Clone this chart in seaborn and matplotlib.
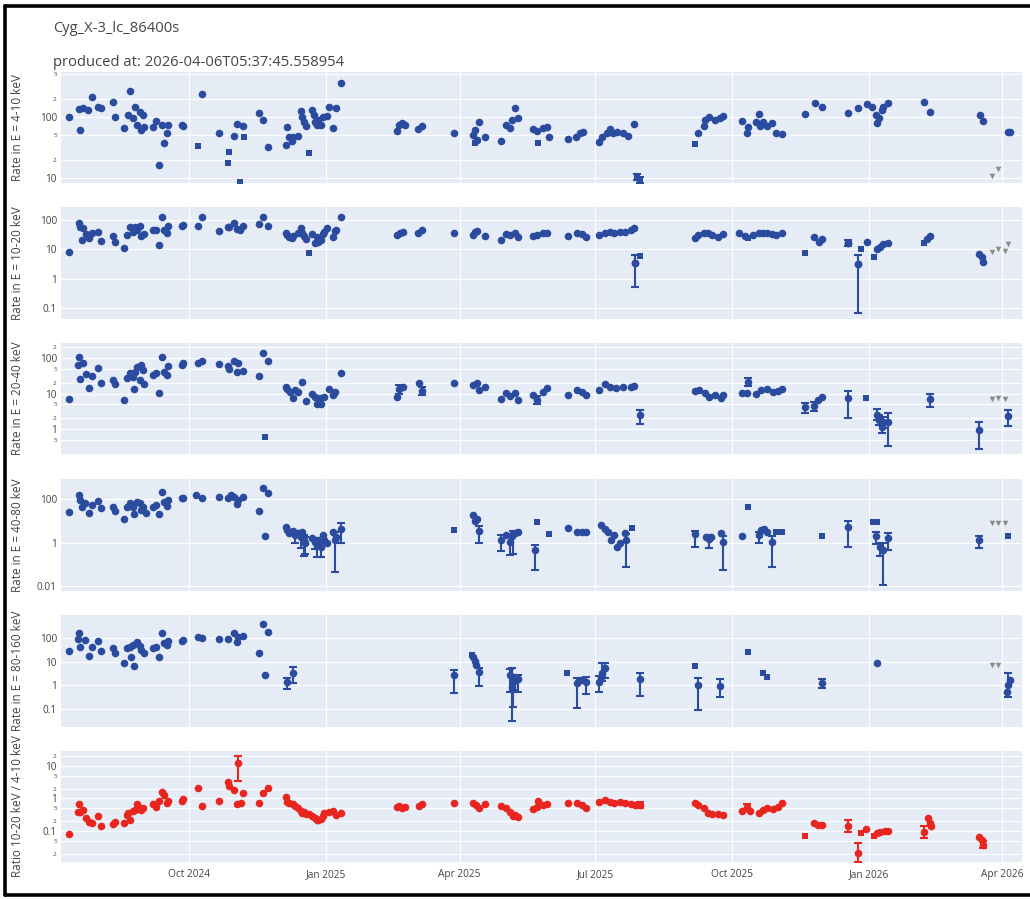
import numpy as np
import pandas as pd
import matplotlib
matplotlib.use("Agg")
import matplotlib.pyplot as plt
import matplotlib.dates as mdates
from matplotlib.ticker import FixedLocator, FixedFormatter, NullLocator
from matplotlib.lines import Line2D
import seaborn as sns

sns.set_style("white")
plt.rcParams["font.family"] = ["Open Sans", "DejaVu Sans"]

# Observation epochs are given in days since 2024-07-01 (one bin = 86400 s)
T0 = pd.Timestamp("2024-07-01")

# ---------------- 4-10 keV ----------------
e4_day = [11, 18, 19, 21, 24, 27, 31, 33, 41, 42, 48, 51, 52, 54, 56, 57, 59, 60, 61, 62,
          68, 70, 72, 74, 75, 77, 78, 87, 88, 101, 112, 122, 124, 128, 139, 142, 145, 157, 158, 159,
          161, 162, 165, 167, 168, 169, 171, 175, 176, 177, 178, 179, 181, 182, 185, 186, 189, 191, 194, 232,
          233, 235, 237, 246, 249, 270, 283, 284, 286, 287, 291, 302, 305, 308, 309, 311, 313, 323, 326, 330,
          333, 334, 347, 352, 355, 357, 368, 370, 373, 375, 377, 380, 384, 387, 391, 434, 438, 439, 442, 446,
          449, 451, 464, 467, 468, 473, 475, 476, 478, 481, 484, 487, 491, 506, 513, 518, 535, 542, 548, 551,
          554, 555, 556, 558, 559, 562, 586, 590, 624, 626, 643, 644]
e4_rate = [100, 135, 61, 140, 130, 213, 146, 140, 176, 100, 66, 108, 267, 96, 146, 74, 121, 61, 108, 69,
           69, 86, 16.4, 74, 37.5, 55, 74, 74, 71, 238, 55, 49, 77, 71, 116, 89, 32, 35, 69, 47,
           40, 47, 49, 125, 100, 83, 71, 130, 108, 83, 74, 89, 74, 100, 104, 146, 66, 140, 360, 59,
           74, 80, 74, 64, 71, 55, 51, 61, 42, 83, 47, 40, 74, 66, 89, 140, 96, 64, 59, 66,
           69, 47, 44, 47, 55, 57, 39, 47, 55, 64, 55, 57, 55, 49, 77, 55, 71, 89, 100, 89,
           96, 104, 86, 55, 69, 83, 112, 71, 83, 71, 80, 55, 53, 112, 170, 146, 116, 140, 163, 146,
           108, 80, 96, 130, 146, 170, 176, 121, 108, 86, 57, 57]
e4_sq_day = [98, 118, 119, 126, 129, 173, 284, 327, 393, 395, 432]
e4_sq_rate = [33.5, 17.6, 27, 8.5, 47, 25.6, 37, 37, 10.5, 9.3, 36]
e4_err_day = [393, 395]
e4_err_rate = [10.5, 9.3]
e4_err_lo = [9.3, 8.4]
e4_err_hi = [11.8, 10.4]
e4_ul_day = [632, 636]
e4_ul_rate = [10.8, 14]

# ---------------- 10-20 keV ----------------
e10_day = [11, 18, 19, 20, 21, 23, 25, 27, 31, 33, 41, 42, 48, 50, 52, 54, 56, 57, 59, 60,
           62, 68, 70, 72, 74, 75, 77, 78, 87, 88, 98, 101, 112, 118, 119, 122, 124, 126, 128, 139,
           142, 145, 157, 158, 159, 161, 162, 165, 167, 168, 169, 171, 175, 177, 178, 179, 181, 182, 183, 185,
           189, 190, 191, 194, 232, 234, 236, 246, 249, 270, 283, 284, 286, 291, 302, 305, 308, 311, 313, 323,
           326, 330, 333, 347, 353, 356, 359, 368, 372, 375, 378, 382, 385, 389, 391, 392, 432, 434, 438, 441,
           444, 448, 451, 462, 466, 471, 475, 478, 481, 484, 487, 491, 512, 516, 518, 535, 542, 548, 555, 557,
           559, 562, 588, 590, 623, 625, 626]
e10_rate = [8.3, 81, 58, 21, 53, 33, 24, 36, 39, 19, 28, 18, 11, 31, 58, 39, 58, 45, 63, 28,
            33, 45, 45, 14, 126, 45, 36, 63, 63, 68, 63, 126, 42, 58, 58, 79, 49, 45, 63, 73,
            126, 63, 36, 31, 26, 24, 28, 36, 53, 36, 28, 22, 33, 16, 26, 18, 21, 33, 39, 53,
            26, 42, 45, 126, 31, 36, 39, 36, 45, 36, 31, 39, 42, 28, 21, 33, 31, 36, 26, 28,
            31, 36, 36, 28, 36, 33, 26, 31, 36, 39, 36, 39, 39, 45, 53, 3.4, 24, 31, 36, 36,
            31, 26, 33, 36, 28, 31, 36, 36, 36, 33, 31, 36, 26, 18, 22, 16, 3.2, 18, 10, 12,
            15, 16, 22, 28, 6.9, 5.5, 3.7]
e10_sq_day = [173, 395, 468, 506, 544, 553, 586]
e10_sq_rate = [7.5, 5.9, 24, 7.5, 10, 5.5, 16]
e10_err_day = [392, 535, 542]
e10_err_rate = [3.4, 16, 3.2]
e10_err_lo = [0.51, 12.5, 0.068]
e10_err_hi = [6.4, 20, 6.4]
e10_ul_day = [632, 636, 641, 643]
e10_ul_rate = [8, 10, 8.5, 15]

# ---------------- 20-40 keV ----------------
e20_day = [11, 17, 18, 19, 21, 23, 25, 27, 31, 33, 41, 42, 48, 50, 52, 54, 55, 56, 57, 59,
           60, 61, 62, 68, 70, 72, 74, 75, 77, 78, 87, 88, 98, 101, 112, 118, 119, 122, 124, 125,
           128, 139, 142, 145, 157, 158, 160, 162, 163, 165, 168, 171, 175, 177, 178, 180, 181, 183, 186, 189,
           190, 194, 232, 236, 247, 270, 283, 286, 287, 291, 302, 305, 308, 311, 313, 323, 330, 333, 347, 353,
           356, 359, 368, 372, 375, 379, 384, 389, 391, 432, 435, 439, 442, 446, 450, 451, 464, 467, 473, 477,
           481, 485, 488, 491, 515, 518]
e20_rate = [7.0, 63, 109, 26, 72, 35, 14, 31, 52, 20, 24, 18.6, 6.6, 27, 38, 29, 13.5, 41, 56, 24,
            63, 46, 18.6, 33, 38, 10.3, 107, 41, 33, 59, 63, 72, 72, 82, 68, 59, 49, 82, 41, 72,
            43, 31, 138, 82, 15, 13.5, 11, 7.4, 12.6, 11, 21, 6.2, 9.7, 8.0, 5.0, 7.4, 5.0, 8, 13.5, 9.1,
            11, 38, 8, 15, 20, 20, 17.5, 20, 12.6, 15, 7.0, 10.3, 8.6, 10.3, 6.6, 9.1, 11, 14, 9.1, 12.6,
            11, 9.1, 12.6, 18.6, 15, 14, 15, 15, 16, 11.8, 12.6, 10.3, 8, 9.1, 7.4, 9.1, 10.3, 10.3, 9.7, 12.6,
            13.5, 11, 11.8, 13.5, 6.6, 8]
e20_sq_day = [143, 547]
e20_sq_rate = [0.6, 7.4]
e20_err_day = [233, 249, 326, 395, 468, 506, 512, 535, 555, 556, 558, 559, 562, 590, 623, 643]
e20_err_rate = [13.5, 11.8, 6.6, 2.5, 21, 4.2, 4.5, 7.4, 2.5, 1.8, 1.15, 1.6, 1.6, 7.0, 0.93, 2.3]
e20_err_lo = [10, 9, 5.2, 1.4, 16, 2.8, 3.2, 2.0, 1.8, 1.3, 0.8, 1.1, 0.33, 4.2, 0.27, 1.2]
e20_err_hi = [18, 15, 8.4, 3.5, 28, 5.5, 5.8, 11.8, 3.7, 2.5, 1.6, 2.2, 2.8, 9.7, 1.6, 3.4]
e20_ul_day = [632, 636, 641]
e20_ul_rate = [7, 7.4, 7]

# ---------------- 40-80 keV ----------------
e40_day = [11, 18, 19, 20, 22, 25, 27, 31, 33, 41, 42, 48, 50, 52, 54, 55, 57, 59, 60, 61,
           63, 68, 70, 72, 74, 75, 77, 78, 87, 88, 97, 101, 112, 118, 120, 122, 124, 125, 128, 139,
           142, 143, 145, 157, 158, 159, 162, 165, 168, 175, 179, 182, 183, 185, 189, 191, 283, 284, 286, 305,
           309, 311, 313, 347, 353, 356, 359, 369, 372, 374, 376, 378, 380, 382, 385, 440, 443, 450, 464, 477,
           479, 481]
e40_rate = [25, 150, 90, 43, 66, 23, 53, 81, 39, 43, 28, 12, 43, 66, 43, 20, 73, 66, 31, 43,
            23, 43, 53, 20, 210, 73, 48, 90, 112, 112, 150, 112, 123, 112, 150, 123, 59, 90, 123, 28,
            320, 2.0, 190, 5.1, 3.7, 2.7, 3.4, 2.7, 3.0, 1.6, 1.3, 2.2, 1.3, 1.0, 3.0, 1.8, 18, 9.8, 12, 2.2,
            2.0, 2.7, 3.0, 4.7, 3.0, 3.0, 3.0, 6.3, 4.2, 3.0, 1.3, 2.2, 0.6, 1.0, 2.7, 1.8, 1.8, 2.7, 2.0, 3.7,
            4.2, 3.0]
e40_sq_day = [270, 326, 334, 390, 468, 487, 491, 518, 552, 555, 643]
e40_sq_rate = [3.7, 8.7, 2.4, 4.7, 43, 3.0, 3.0, 2.0, 8.7, 8.7, 2.0]
e40_err_day = [163, 167, 169, 170, 177, 178, 181, 190, 194, 287, 302, 308, 310, 325, 386, 432,
               442, 451, 475, 484, 535, 554, 557, 559, 562, 623]
e40_err_rate = [2.2, 1.8, 1.3, 1.0, 1.05, 0.8, 0.6, 1.3, 4.2, 3.4, 1.3, 1.05, 2.4, 0.46, 1.3, 2.4,
                1.4, 1.05, 2.2, 1.05, 5.1, 2.0, 0.6, 0.46, 1.6, 1.3]
e40_err_lo = [1.0, 0.56, 0.24, 0.3, 0.5, 0.22, 0.22, 0.044, 1.0, 1.0, 0.4, 0.27, 0.3, 0.054, 0.074, 0.6,
              0.55, 0.054, 1.0, 0.074, 0.6, 0.9, 0.25, 0.011, 0.46, 0.55]
e40_err_hi = [3.4, 2.7, 2.2, 1.8, 1.6, 1.3, 1.0, 3.0, 7.8, 5.5, 2.2, 1.8, 3.5, 0.77, 2.5, 3.4,
              2.2, 2.0, 3.2, 2.0, 9.8, 3.0, 1.0, 1.0, 2.7, 2.0]
e40_ul_day = [632, 636, 641]
e40_ul_rate = [7.9, 7.9, 7.9]

# ---------------- 80-160 keV ----------------
e80_day = [11, 17, 18, 19, 22, 25, 27, 31, 33, 41, 42, 48, 50, 52, 53, 54, 55, 57, 59, 60,
           62, 68, 70, 72, 74, 75, 77, 78, 87, 88, 98, 101, 112, 118, 122, 124, 125, 128, 139, 142,
           143, 145, 283, 284, 285, 355, 357, 369, 555, 642, 644]
e80_rate = [28, 91, 163, 42, 82, 17.5, 42, 74, 28, 38, 23, 8.9, 38, 42, 16, 50, 6.6, 68, 46, 32,
            23, 38, 42, 16, 163, 62, 50, 74, 74, 82, 110, 100, 91, 91, 163, 68, 110, 120, 23, 390,
            2.8, 180, 16, 11, 7.3, 1.7, 1.7, 2.3, 8.9, 0.53, 1.6]
e80_sq_day = [282, 346, 432, 468, 478, 481]
e80_sq_rate = [19, 3.3, 6.6, 26, 3.3, 2.3]
e80_err_day = [158, 162, 270, 287, 308, 309, 310, 311, 313, 353, 359, 368, 370, 372, 395, 434,
               449, 518, 643]
e80_err_rate = [1.4, 3.3, 2.8, 3.7, 2.8, 0.85, 1.4, 1.7, 1.8, 1.25, 1.4, 1.4, 3.3, 5.4, 1.8, 1.0,
                0.95, 1.25, 1.0]
e80_err_lo = [0.7, 1.25, 0.48, 0.95, 0.5, 0.03, 0.12, 0.6, 0.53, 0.11, 0.44, 0.5, 1.5, 2.0, 0.36, 0.09,
              0.32, 0.75, 0.32]
e80_err_hi = [2.1, 6.0, 4.5, 5.5, 4.8, 5.4, 2.6, 2.8, 2.8, 2.1, 2.2, 2.5, 8.9, 9.0, 3.3, 2.1,
              1.8, 1.8, 3.3]
e80_ul_day = [632, 636]
e80_ul_rate = [7.3, 7.3]

# ---------------- hardness ratio (10-20 keV / 4-10 keV) ----------------
hr_day = [11, 17, 18, 19, 21, 23, 25, 27, 31, 33, 41, 42, 48, 50, 51, 52, 54, 56, 57, 59,
          60, 61, 68, 70, 72, 74, 75, 77, 78, 87, 88, 98, 101, 112, 118, 119, 122, 124, 127, 128,
          139, 142, 145, 157, 158, 159, 162, 163, 165, 167, 168, 169, 171, 173, 175, 177, 178, 179, 181, 182,
          183, 186, 189, 191, 194, 232, 233, 235, 237, 247, 249, 270, 283, 285, 287, 291, 302, 305, 308, 310,
          311, 313, 323, 326, 327, 330, 333, 347, 353, 356, 359, 368, 372, 375, 378, 382, 385, 389, 392, 432,
          434, 438, 441, 444, 448, 451, 464, 469, 475, 478, 481, 485, 488, 491, 512, 515, 518, 547, 555, 557,
          560, 562, 589, 590, 591, 623, 625]
hr_ratio = [0.081, 0.38, 0.68, 0.38, 0.45, 0.25, 0.19, 0.18, 0.29, 0.14, 0.16, 0.19, 0.18, 0.31, 0.36, 0.22, 0.42, 0.45, 0.68, 0.51,
            0.45, 0.51, 0.68, 0.55, 0.83, 1.6, 1.3, 0.73, 0.83, 0.83, 0.96, 2.1, 0.59, 0.83, 3.2, 2.4, 1.8, 0.68, 0.73, 1.48,
            0.73, 1.48, 2.1, 1.1, 0.78, 0.73, 0.68, 0.59, 0.51, 0.42, 0.36, 0.38, 0.33, 0.33, 0.29, 0.25, 0.22, 0.21, 0.23, 0.29,
            0.36, 0.38, 0.42, 0.31, 0.36, 0.55, 0.59, 0.51, 0.55, 0.59, 0.68, 0.73, 0.73, 0.64, 0.51, 0.68, 0.59, 0.51, 0.38, 0.29,
            0.31, 0.27, 0.48, 0.55, 0.83, 0.64, 0.68, 0.73, 0.73, 0.64, 0.51, 0.78, 0.90, 0.78, 0.73, 0.78, 0.73, 0.68, 0.64, 0.73,
            0.64, 0.51, 0.36, 0.33, 0.33, 0.31, 0.42, 0.42, 0.36, 0.45, 0.51, 0.48, 0.55, 0.73, 0.18, 0.15, 0.15, 0.115, 0.087, 0.093,
            0.10, 0.10, 0.25, 0.18, 0.14, 0.066, 0.052]
hr_sq_day = [506, 544, 553]
hr_sq_ratio = [0.071, 0.087, 0.071]
hr_err_day = [125, 395, 467, 535, 542, 586, 626]
hr_err_ratio = [12.4, 0.64, 0.55, 0.14, 0.021, 0.093, 0.037]
hr_err_lo = [3.5, 0.52, 0.42, 0.093, 0.011, 0.06, 0.03]
hr_err_hi = [20, 0.76, 0.68, 0.22, 0.043, 0.14, 0.05]

# y-axis tick values and their labels
e4_major, e4_major_lab = [10, 100], ["10", "100"]
e4_minor, e4_minor_lab = [20, 50, 200, 500], ["2", "5", "2", "5"]
e10_major, e10_major_lab = [0.1, 1, 10, 100], ["0.1", "1", "10", "100"]
e20_major, e20_major_lab = [1, 10, 100], ["1", "10", "100"]
e20_minor, e20_minor_lab = [0.5, 2, 5, 20, 50, 200], ["5", "2", "5", "2", "5", "2"]
e40_major, e40_major_lab = [0.01, 1, 100], ["0.01", "1", "100"]
e80_major, e80_major_lab = [0.1, 1, 10, 100], ["0.1", "1", "10", "100"]
hr_major, hr_major_lab = [0.1, 1, 10], ["0.1", "1", "10"]
hr_minor, hr_minor_lab = [0.02, 0.05, 0.2, 0.5, 2, 5, 20], ["2", "5", "2", "5", "2", "5", "2"]

BLUE = "#2b4c9e"
RED = "#e8261f"
GRAY = "#8a8a8a"
BG = "#e5ecf6"
TXT = "#444444"

W, H = 1030, 899
fig = plt.figure(figsize=(W / 100, H / 100), dpi=100)
fig.patch.set_facecolor("white")


def when(days):
    return T0 + pd.to_timedelta(np.asarray(days, dtype=float), unit="D")


panel_px = [(72, 183), (207, 319), (343, 454), (479, 591), (615, 727), (751, 862)]
x_left, x_right = 61, 1022

panels = [
    dict(d=e4_day, v=e4_rate, sd=e4_sq_day, sv=e4_sq_rate, ed=e4_err_day, ev=e4_err_rate,
         lo=e4_err_lo, hi=e4_err_hi, ud=e4_ul_day, uv=e4_ul_rate, color=BLUE, ylim=(8.3, 547),
         major=(e4_major, e4_major_lab), minor=(e4_minor, e4_minor_lab), label="Rate in E = 4-10 keV"),
    dict(d=e10_day, v=e10_rate, sd=e10_sq_day, sv=e10_sq_rate, ed=e10_err_day, ev=e10_err_rate,
         lo=e10_err_lo, hi=e10_err_hi, ud=e10_ul_day, uv=e10_ul_rate, color=BLUE, ylim=(0.042, 277),
         major=(e10_major, e10_major_lab), minor=None, label="Rate in E = 10-20 keV"),
    dict(d=e20_day, v=e20_rate, sd=e20_sq_day, sv=e20_sq_rate, ed=e20_err_day, ev=e20_err_rate,
         lo=e20_err_lo, hi=e20_err_hi, ud=e20_ul_day, uv=e20_ul_rate, color=BLUE, ylim=(0.2, 265),
         major=(e20_major, e20_major_lab), minor=(e20_minor, e20_minor_lab), label="Rate in E = 20-40 keV"),
    dict(d=e40_day, v=e40_rate, sd=e40_sq_day, sv=e40_sq_rate, ed=e40_err_day, ev=e40_err_rate,
         lo=e40_err_lo, hi=e40_err_hi, ud=e40_ul_day, uv=e40_ul_rate, color=BLUE, ylim=(0.0059, 830),
         major=(e40_major, e40_major_lab), minor=None, label="Rate in E = 40-80 keV"),
    dict(d=e80_day, v=e80_rate, sd=e80_sq_day, sv=e80_sq_rate, ed=e80_err_day, ev=e80_err_rate,
         lo=e80_err_lo, hi=e80_err_hi, ud=e80_ul_day, uv=e80_ul_rate, color=BLUE, ylim=(0.017, 930),
         major=(e80_major, e80_major_lab), minor=None, label="Rate in E = 80-160 keV"),
    dict(d=hr_day, v=hr_ratio, sd=hr_sq_day, sv=hr_sq_ratio, ed=hr_err_day, ev=hr_err_ratio,
         lo=hr_err_lo, hi=hr_err_hi, ud=[], uv=[], color=RED, ylim=(0.011, 29),
         major=(hr_major, hr_major_lab), minor=(hr_minor, hr_minor_lab), label="Ratio 10-20 keV / 4-10 keV"),
]

axes = []
for i, (p, (top, bot)) in enumerate(zip(panels, panel_px)):
    ax = fig.add_axes([x_left / W, 1 - bot / H, (x_right - x_left) / W, (bot - top) / H],
                      sharex=axes[0] if axes else None)
    axes.append(ax)
    ax.set_facecolor(BG)
    for s in ax.spines.values():
        s.set_visible(False)
    ax.set_yscale("log")
    ax.set_ylim(*p["ylim"])

    # points with error bars: whiskers and caps first, markers on top
    if p["ed"]:
        ev = np.asarray(p["ev"], float)
        yerr = [ev - np.asarray(p["lo"], float), np.asarray(p["hi"], float) - ev]
        ax.errorbar(when(p["ed"]), ev, yerr=yerr, fmt="none", ecolor=p["color"],
                    elinewidth=1.5, capsize=3, capthick=1.5, zorder=3)
        if p["ed"] is not e4_err_day:
            sns.scatterplot(x=when(p["ed"]), y=ev, ax=ax, color=p["color"], s=30,
                            marker="o", linewidth=0, zorder=4)
    # plain detections
    sns.scatterplot(x=when(p["d"]), y=p["v"], ax=ax, color=p["color"], s=30,
                    marker="o", linewidth=0, zorder=4)
    if p["sd"]:
        sns.scatterplot(x=when(p["sd"]), y=p["sv"], ax=ax, color=p["color"], s=24,
                        marker="s", linewidth=0, zorder=4)
    # upper limits
    if p["ud"]:
        sns.scatterplot(x=when(p["ud"]), y=p["uv"], ax=ax, color=GRAY, s=16,
                        marker="v", linewidth=0, zorder=4)

    ax.yaxis.set_major_locator(FixedLocator(p["major"][0]))
    ax.yaxis.set_major_formatter(FixedFormatter(p["major"][1]))
    if p["minor"] is not None:
        ax.yaxis.set_minor_locator(FixedLocator(p["minor"][0]))
        ax.yaxis.set_minor_formatter(FixedFormatter(p["minor"][1]))
        ax.grid(True, which="minor", axis="y", color="white", lw=0.8)
    else:
        ax.yaxis.set_minor_locator(NullLocator())
    ax.grid(True, which="major", color="white", lw=0.9)
    ax.set_axisbelow(True)
    ax.tick_params(axis="y", which="major", length=0, pad=3, labelsize=7.2, labelcolor=TXT)
    ax.tick_params(axis="y", which="minor", length=0, pad=3, labelsize=4.6, labelcolor=TXT)
    ax.tick_params(axis="x", length=0, pad=5, labelsize=7.3, labelcolor=TXT)
    ax.set_ylabel(p["label"], fontsize=8.5, color=TXT)
    ax.yaxis.set_label_coords((24 - x_left) / (x_right - x_left), 0.5)
    ax.set_xlabel("")

axes[0].set_xlim(T0 + pd.Timedelta(days=5.9), T0 + pd.Timedelta(days=652.2))
axes[0].xaxis.set_major_locator(mdates.MonthLocator(bymonth=[1, 4, 7, 10]))
axes[0].xaxis.set_major_formatter(mdates.DateFormatter("%b %Y"))
for ax in axes[:-1]:
    ax.tick_params(axis="x", labelbottom=False)

fig.text(53 / W, 1 - 29 / H, "Cyg_X-3_lc_86400s", fontsize=10.6, color=TXT, va="center")
fig.text(53 / W, 1 - 62 / H, "produced at: 2026-04-06T05:37:45.558954", fontsize=10.6,
         color=TXT, va="center")

# dark frame around the figure
for xs, ys in [((5, 5), (6, 895)), ((5, 1030), (6, 6)), ((5, 1030), (895, 895))]:
    fig.add_artist(Line2D([x / W for x in xs], [1 - y / H for y in ys], color="black",
                          lw=2.6, transform=fig.transFigure))

fig.savefig("out.png", dpi=100, facecolor="white")
